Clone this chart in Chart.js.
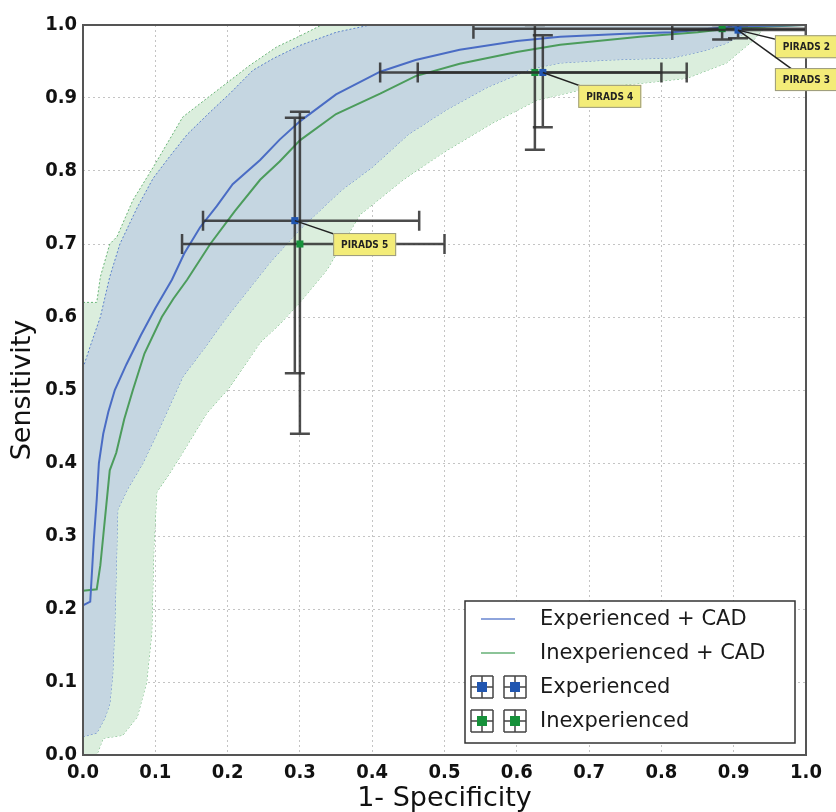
<!DOCTYPE html>
<html lang="en">
<head>
<meta charset="UTF-8">
<title>ROC - readers with and without CAD</title>
<script src="https://cdn.jsdelivr.net/npm/chart.js"></script>
<style>
  html, body { margin: 0; padding: 0; background: #fff; }
</style>
</head>
<body>
<canvas id="roc" width="836" height="812"></canvas>
<script>
// x = 1 - specificity, y = sensitivity
const expCadX = [0, 0.01, 0.015, 0.019, 0.022, 0.028, 0.035, 0.044, 0.06, 0.08, 0.1, 0.123, 0.14, 0.162, 0.185, 0.207, 0.245, 0.272, 0.30, 0.35, 0.411, 0.46, 0.521, 0.60, 0.66, 0.75, 0.816, 0.90, 1.0];
const expCadY = [0.205, 0.21, 0.295, 0.35, 0.40, 0.44, 0.47, 0.50, 0.535, 0.575, 0.612, 0.651, 0.687, 0.723, 0.752, 0.782, 0.815, 0.843, 0.868, 0.905, 0.936, 0.952, 0.966, 0.978, 0.984, 0.988, 0.99, 0.998, 1.0];

const inexpCadX = [0, 0.019, 0.024, 0.028, 0.037, 0.046, 0.057, 0.069, 0.085, 0.109, 0.125, 0.144, 0.176, 0.21, 0.245, 0.272, 0.30, 0.35, 0.411, 0.46, 0.521, 0.60, 0.66, 0.77, 0.85, 0.90, 1.0];
const inexpCadY = [0.225, 0.227, 0.26, 0.30, 0.39, 0.414, 0.46, 0.50, 0.55, 0.60, 0.625, 0.651, 0.70, 0.745, 0.788, 0.813, 0.842, 0.878, 0.906, 0.93, 0.947, 0.963, 0.973, 0.984, 0.99, 0.996, 1.0];

// confidence bands
const expHiX = [0, 0.01, 0.024, 0.037, 0.051, 0.075, 0.097, 0.12, 0.144, 0.175, 0.203, 0.235, 0.263, 0.30, 0.35, 0.397, 1.0];
const expHiY = [0.53, 0.56, 0.60, 0.655, 0.70, 0.75, 0.79, 0.82, 0.85, 0.88, 0.906, 0.938, 0.954, 0.972, 0.99, 1.0, 1.0];
const expLoX = [0, 0.019, 0.03, 0.037, 0.041, 0.044, 0.047, 0.048, 0.061, 0.083, 0.107, 0.138, 0.17, 0.199, 0.235, 0.259, 0.30, 0.358, 0.40, 0.45, 0.503, 0.56, 0.62, 0.66, 0.725, 0.816, 0.86, 0.89, 0.918, 0.93, 1.0];
const expLoY = [0.025, 0.03, 0.05, 0.07, 0.11, 0.18, 0.295, 0.336, 0.363, 0.40, 0.45, 0.518, 0.56, 0.60, 0.645, 0.675, 0.72, 0.774, 0.805, 0.85, 0.884, 0.915, 0.94, 0.948, 0.952, 0.955, 0.965, 0.975, 0.99, 1.0, 1.0];

const inexpHiX = [0, 0.019, 0.024, 0.037, 0.047, 0.069, 0.097, 0.138, 0.185, 0.231, 0.268, 0.30, 0.33, 1.0];
const inexpHiY = [0.62, 0.62, 0.655, 0.70, 0.71, 0.76, 0.805, 0.874, 0.91, 0.945, 0.97, 0.985, 1.0, 1.0];
const inexpLoX = [0, 0.019, 0.028, 0.055, 0.075, 0.088, 0.095, 0.098, 0.102, 0.116, 0.134, 0.171, 0.203, 0.245, 0.272, 0.30, 0.337, 0.383, 0.443, 0.498, 0.567, 0.628, 0.70, 0.77, 0.835, 0.89, 0.927, 0.946, 1.0];
const inexpLoY = [0, 0, 0.023, 0.027, 0.052, 0.10, 0.167, 0.285, 0.36, 0.38, 0.408, 0.468, 0.504, 0.565, 0.59, 0.62, 0.664, 0.74, 0.788, 0.825, 0.866, 0.897, 0.914, 0.92, 0.927, 0.948, 0.979, 1.0, 1.0];

// reader operating points (PIRADS 5, 4, 3) with 95% CI
const expX    = [0.293, 0.636, 0.906];
const expY    = [0.732, 0.935, 0.993];
const expXLo  = [0.166, 0.463, 0.815];
const expXHi  = [0.465, 0.800, 1.0];
const expYLo  = [0.523, 0.860, 0.982];
const expYHi  = [0.873, 0.986, 1.0];

const inexpX   = [0.300, 0.625, 0.884];
const inexpY   = [0.700, 0.935, 0.995];
const inexpXLo = [0.137, 0.411, 0.540];
const inexpXHi = [0.500, 0.835, 1.0];
const inexpYLo = [0.440, 0.829, 0.980];
const inexpYHi = [0.881, 1.0, 1.0];

// annotations: text, point it refers to, box top-left (data units)
const annoText = ['PIRADS 5', 'PIRADS 4', 'PIRADS 2', 'PIRADS 3'];
const annoPtX  = [0.293, 0.636, 0.906, 0.906];
const annoPtY  = [0.732, 0.935, 0.993, 0.993];
const annoBoxX = [0.346, 0.685, 0.957, 0.957];
const annoBoxY = [0.715, 0.918, 0.986, 0.941];

const legendLabels = ['Experienced + CAD', 'Inexperienced + CAD', 'Experienced', 'Inexperienced'];

const FONT = "'DejaVu Sans Condensed', 'DejaVu Sans', sans-serif";
const BLUE_LINE = '#4a6cc4', GREEN_LINE = '#4c9c5c';
const BLUE_PT = '#2156b0', GREEN_PT = '#16913a';

const pts = (xs, ys) => xs.map((x, i) => ({ x, y: ys[i] }));

const errorBars = {
  id: 'errorBars',
  beforeDatasetDraw(chart, args) {
    const ds = chart.data.datasets[args.index];
    if (!ds.err) return;
    const { ctx, chartArea: a, scales: { x, y } } = chart;
    const cap = 10;
    ctx.save();
    ctx.beginPath();
    ctx.rect(a.left, a.top - 1, a.right - a.left, a.bottom - a.top + 2);
    ctx.clip();
    ctx.strokeStyle = 'rgba(45,45,45,0.85)';
    ctx.lineWidth = 2.5;
    ds.data.forEach((p, i) => {
      const px = x.getPixelForValue(p.x), py = y.getPixelForValue(p.y);
      const x0 = x.getPixelForValue(ds.err.xLo[i]), x1 = x.getPixelForValue(ds.err.xHi[i]);
      const y0 = y.getPixelForValue(ds.err.yLo[i]), y1 = y.getPixelForValue(ds.err.yHi[i]);
      ctx.beginPath();
      ctx.moveTo(x0, py); ctx.lineTo(x1, py);
      ctx.moveTo(px, y0); ctx.lineTo(px, y1);
      ctx.moveTo(x0, py - cap); ctx.lineTo(x0, py + cap);
      ctx.moveTo(x1, py - cap); ctx.lineTo(x1, py + cap);
      ctx.moveTo(px - cap, y0); ctx.lineTo(px + cap, y0);
      ctx.moveTo(px - cap, y1); ctx.lineTo(px + cap, y1);
      ctx.stroke();
    });
    ctx.restore();
  }
};

const frame = {
  id: 'frame',
  afterDatasetsDraw(chart) {
    const { ctx, chartArea: a } = chart;
    ctx.save();
    ctx.strokeStyle = '#555';
    ctx.lineWidth = 2;
    ctx.strokeRect(a.left, a.top, a.right - a.left, a.bottom - a.top);
    ctx.restore();
  }
};

function errGlyph(ctx, cx, cy, color) {
  const h = 11;
  ctx.strokeStyle = '#444';
  ctx.lineWidth = 1.5;
  ctx.beginPath();
  ctx.moveTo(cx - h, cy); ctx.lineTo(cx + h, cy);
  ctx.moveTo(cx, cy - h); ctx.lineTo(cx, cy + h);
  ctx.moveTo(cx - h, cy - h); ctx.lineTo(cx - h, cy + h);
  ctx.moveTo(cx + h, cy - h); ctx.lineTo(cx + h, cy + h);
  ctx.moveTo(cx - h, cy - h); ctx.lineTo(cx + h, cy - h);
  ctx.moveTo(cx - h, cy + h); ctx.lineTo(cx + h, cy + h);
  ctx.stroke();
  ctx.fillStyle = color;
  ctx.fillRect(cx - 5, cy - 5, 10, 10);
}

const overlay = {
  id: 'overlay',
  afterDraw(chart) {
    const { ctx, chartArea: a, scales: { x, y } } = chart;
    ctx.save();

    // PIRADS call-outs
    ctx.font = 'bold 10px ' + FONT;
    ctx.textBaseline = 'middle';
    annoText.forEach((t, i) => {
      const bx = x.getPixelForValue(annoBoxX[i]), by = y.getPixelForValue(annoBoxY[i]);
      const bw = 63, bh = 23;
      ctx.strokeStyle = '#222';
      ctx.lineWidth = 1.5;
      ctx.beginPath();
      ctx.moveTo(x.getPixelForValue(annoPtX[i]), y.getPixelForValue(annoPtY[i]));
      ctx.lineTo(bx + bw / 2, by + bh / 2);
      ctx.stroke();
      ctx.fillStyle = '#f3ec78';
      ctx.fillRect(bx, by, bw, bh);
      ctx.strokeStyle = '#9a9a80';
      ctx.lineWidth = 1;
      ctx.strokeRect(bx + 0.5, by + 0.5, bw - 1, bh - 1);
      ctx.fillStyle = '#222';
      ctx.textAlign = 'center';
      ctx.fillText(t, bx + bw / 2, by + bh / 2 + 1);
    });

    // legend, lower right
    const lw = 330, lh = 142;
    const lx = a.right - 11 - lw, ly = a.bottom - 12 - lh;
    ctx.fillStyle = '#fff';
    ctx.fillRect(lx, ly, lw, lh);
    ctx.strokeStyle = '#333';
    ctx.lineWidth = 1.5;
    ctx.strokeRect(lx, ly, lw, lh);
    const rowY = [18, 52, 86, 120].map(v => ly + v);
    ctx.lineWidth = 2;
    ctx.strokeStyle = '#8ea4dc';
    ctx.beginPath(); ctx.moveTo(lx + 16, rowY[0]); ctx.lineTo(lx + 50, rowY[0]); ctx.stroke();
    ctx.strokeStyle = '#8cc498';
    ctx.beginPath(); ctx.moveTo(lx + 16, rowY[1]); ctx.lineTo(lx + 50, rowY[1]); ctx.stroke();
    errGlyph(ctx, lx + 17, rowY[2], BLUE_PT);
    errGlyph(ctx, lx + 50, rowY[2], BLUE_PT);
    errGlyph(ctx, lx + 17, rowY[3], GREEN_PT);
    errGlyph(ctx, lx + 50, rowY[3], GREEN_PT);
    ctx.font = "21px 'DejaVu Sans', sans-serif";
    ctx.fillStyle = '#1a1a1a';
    ctx.textAlign = 'left';
    ctx.textBaseline = 'middle';
    legendLabels.forEach((t, i) => ctx.fillText(t, lx + 75, rowY[i] + 1));
    ctx.restore();
  }
};

const tickFont = { family: FONT, size: 20, weight: 'bold' };
const titleFont = { family: "'DejaVu Sans', sans-serif", size: 27 };
const gridCfg = { color: '#c4c4c4', lineWidth: 1, drawTicks: false };
const borderCfg = { display: false, dash: [2, 3] };

new Chart(document.getElementById('roc'), {
  type: 'line',
  data: {
    datasets: [
      { label: 'Experienced', data: pts(expX, expY), showLine: false, order: -1,
        pointStyle: 'rect', pointRadius: 5, pointBackgroundColor: BLUE_PT, pointBorderColor: BLUE_PT, pointBorderWidth: 0,
        err: { xLo: expXLo, xHi: expXHi, yLo: expYLo, yHi: expYHi } },
      { label: 'Inexperienced', data: pts(inexpX, inexpY), showLine: false, order: -1,
        pointStyle: 'rect', pointRadius: 5, pointBackgroundColor: GREEN_PT, pointBorderColor: GREEN_PT, pointBorderWidth: 0,
        err: { xLo: inexpXLo, xHi: inexpXHi, yLo: inexpYLo, yHi: inexpYHi } },
      { label: 'Experienced + CAD', data: pts(expCadX, expCadY), order: 0,
        borderColor: BLUE_LINE, borderWidth: 2, pointRadius: 0, tension: 0, fill: false },
      { label: 'Inexperienced + CAD', data: pts(inexpCadX, inexpCadY), order: 0,
        borderColor: GREEN_LINE, borderWidth: 2, pointRadius: 0, tension: 0, fill: false },
      { label: 'exp hi', data: pts(expHiX, expHiY), order: 1,
        borderColor: '#5d82cc', borderWidth: 1, borderDash: [2, 2], pointRadius: 0,
        fill: { target: 5 }, backgroundColor: '#c5d6e1' },
      { label: 'exp lo', data: pts(expLoX, expLoY), order: 1,
        borderColor: '#5d82cc', borderWidth: 1, borderDash: [2, 2], pointRadius: 0, fill: false },
      { label: 'inexp hi', data: pts(inexpHiX, inexpHiY), order: 2,
        borderColor: '#69b477', borderWidth: 1, borderDash: [2, 2], pointRadius: 0,
        fill: { target: 7 }, backgroundColor: '#dbeedd' },
      { label: 'inexp lo', data: pts(inexpLoX, inexpLoY), order: 2,
        borderColor: '#69b477', borderWidth: 1, borderDash: [2, 2], pointRadius: 0, fill: false }
    ]
  },
  options: {
    responsive: false,
    animation: false,
    layout: { padding: { top: 25, right: 30, left: 0, bottom: 0 } },
    plugins: { legend: { display: false }, tooltip: { enabled: false } },
    scales: {
      x: {
        type: 'linear', min: 0, max: 1,
        afterFit: s => { s.height = 57; },
        ticks: { stepSize: 0.1, autoSkip: false, maxRotation: 0, padding: 6, color: '#111', font: tickFont,
                 callback: v => v.toFixed(1) },
        grid: gridCfg, border: borderCfg,
        title: { display: true, text: '1- Specificity', color: '#111', font: titleFont, padding: { top: 0, bottom: -3 } }
      },
      y: {
        type: 'linear', min: 0, max: 1,
        afterFit: s => { s.width = 83; },
        ticks: { stepSize: 0.1, autoSkip: false, padding: 6, color: '#111', font: tickFont,
                 callback: v => v.toFixed(1) },
        grid: gridCfg, border: borderCfg,
        title: { display: true, text: 'Sensitivity', color: '#111', font: titleFont, padding: { top: 7, bottom: 0 } }
      }
    }
  },
  plugins: [errorBars, frame, overlay]
});
</script>
</body>
</html>
